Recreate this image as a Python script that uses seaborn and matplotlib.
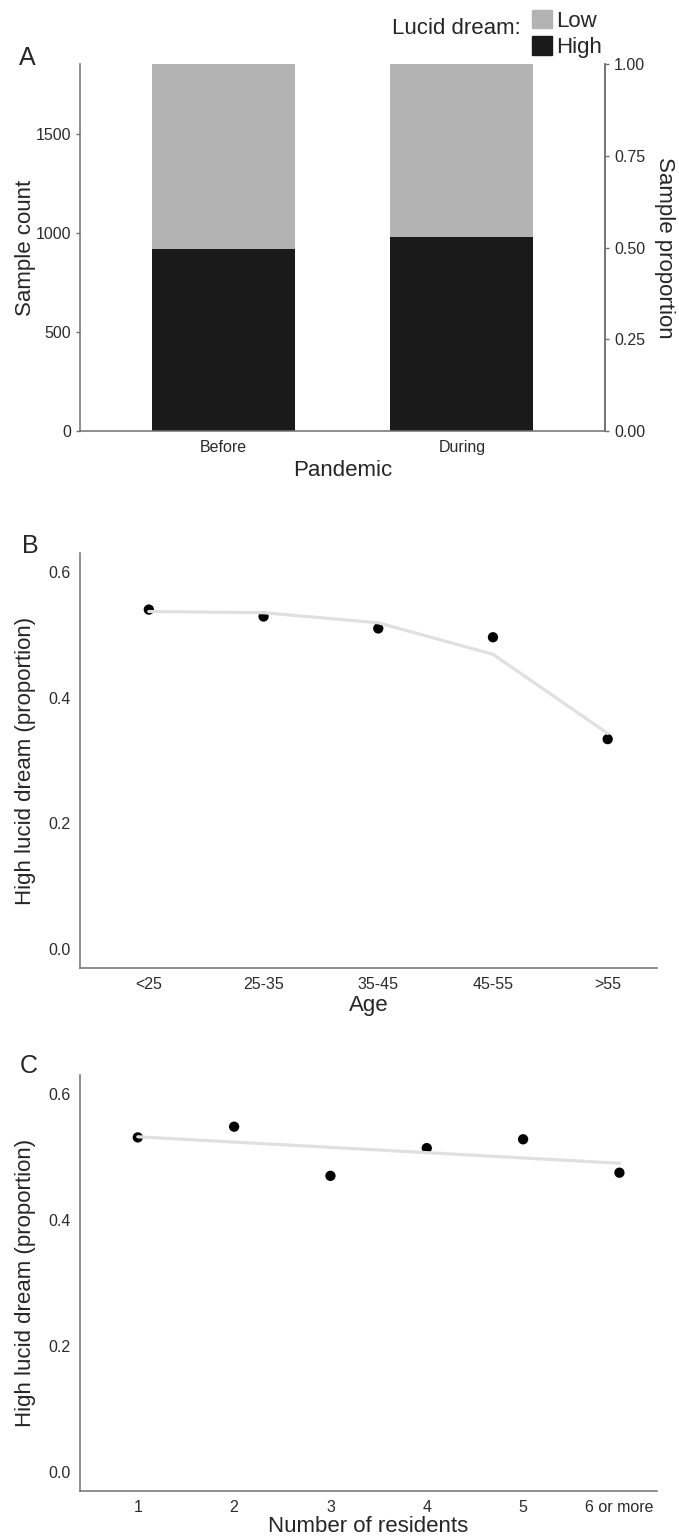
import matplotlib
matplotlib.use("Agg")
import matplotlib.pyplot as plt
import matplotlib.patches as mpatches
import numpy as np
import seaborn as sns

# panel A: lucid dream counts before / during pandemic
pandemic = ["Before", "During"]
high_count = [919, 980]
low_count = [934, 873]

# panel B: proportion of high lucid dreamers by age
age_groups = ["<25", "25-35", "35-45", "45-55", ">55"]
age_prop = [0.540, 0.529, 0.510, 0.496, 0.334]
age_fit = [0.537, 0.535, 0.519, 0.469, 0.343]

# panel C: by number of residents
residents = ["1", "2", "3", "4", "5", "6 or more"]
res_prop = [0.531, 0.548, 0.470, 0.514, 0.528, 0.475]
res_fit_ends = [0.532, 0.490]

W, H = 679, 1538
GRAY = "#b3b3b3"
BLACK = "#1a1a1a"
SPINE = "#707070"
TICKC = "#2b2b2b"
TICK_FS = 11.5
TITLE_FS = 16


def px_axes(fig, left, right, top, bottom):
    return fig.add_axes([left / W, 1 - bottom / H, (right - left) / W, (bottom - top) / H])


def style(ax):
    sns.despine(ax=ax)
    for s in ["left", "bottom"]:
        ax.spines[s].set_color(SPINE)
        ax.spines[s].set_linewidth(1.1)
    ax.tick_params(colors=SPINE, labelcolor=TICKC, labelsize=TICK_FS, length=3, width=1)
    ax.set_facecolor("white")


def place_labels(ax, left, right, top, bottom, xlab_y, ylab_x=25):
    # put axis titles at pixel positions (centres)
    ax.xaxis.set_label_coords(0.5, -(xlab_y - bottom) / (bottom - top))
    ax.xaxis.label.set_va("center")
    ax.yaxis.set_label_coords(-(left - ylab_x) / (right - left), 0.5)
    ax.yaxis.label.set_va("center")


sns.set_theme(style="white")
plt.rcParams["font.family"] = ["Liberation Sans", "DejaVu Sans"]

fig = plt.figure(figsize=(W / 100, H / 100), dpi=100)

# ---- A ----
axa = px_axes(fig, 80, 605, 64, 431)
total = [h + l for h, l in zip(high_count, low_count)]
sns.barplot(x=pandemic, y=total, color=GRAY, width=0.6, linewidth=0, saturation=1, ax=axa)
sns.barplot(x=pandemic, y=high_count, color=BLACK, width=0.6, linewidth=0, saturation=1, ax=axa)
axa.set_xlim(-0.6, 1.6)
axa.set_ylim(0, max(total))
axa.set_yticks([0, 500, 1000, 1500])
axa.set_xlabel("Pandemic", fontsize=TITLE_FS)
axa.set_ylabel("Sample count", fontsize=TITLE_FS)
style(axa)
place_labels(axa, 80, 605, 64, 431, 470, 25)
axa.spines["right"].set_visible(True)
axa.spines["right"].set_color(SPINE)
axa.spines["right"].set_linewidth(1.1)

ax2 = axa.twinx()
ax2.set_ylim(0, 1)
ax2.set_yticks([0, 0.25, 0.5, 0.75, 1.0])
ax2.set_yticklabels(["0.00", "0.25", "0.50", "0.75", "1.00"])
for s in ["top", "left", "bottom"]:
    ax2.spines[s].set_visible(False)
ax2.spines["right"].set_color(SPINE)
ax2.spines["right"].set_linewidth(1.1)
ax2.tick_params(colors=SPINE, labelcolor=TICKC, labelsize=TICK_FS, length=3, width=1)
ax2.set_ylabel("Sample proportion", fontsize=TITLE_FS, rotation=270, va="center")
ax2.yaxis.set_label_coords((664 - 80) / 525, 0.5)

fig.text(19 / W, 1 - 65 / H, "A", fontsize=18, ha="left", va="baseline")
fig.text(521 / W, 1 - 28 / H, "Lucid dream:", fontsize=TITLE_FS, ha="right", va="center")
handles = [mpatches.Patch(color=GRAY, label="Low"), mpatches.Patch(color=BLACK, label="High")]
fig.legend(handles=handles, loc="upper left", bbox_to_anchor=(532 / W, 1 - 10 / H),
           frameon=False, fontsize=TITLE_FS, handlelength=0.9, handleheight=0.9,
           handletextpad=0.2, labelspacing=0.2, borderaxespad=0, borderpad=0)

# ---- B ----
axb = px_axes(fig, 80, 657, 553, 968)
xb = np.arange(len(age_groups))
sns.scatterplot(x=xb, y=age_prop, color="black", s=55, edgecolor="none", ax=axb, zorder=2)
sns.lineplot(x=xb, y=age_fit, color="#e0e0e0", linewidth=2.3, ax=axb, zorder=3)
axb.set_xticks(xb)
axb.set_xticklabels(age_groups)
axb.set_xlim(-0.6, 4.43)
axb.set_ylim(-0.03, 0.63)
axb.set_yticks([0.0, 0.2, 0.4, 0.6])
axb.set_yticklabels(["0.0", "0.2", "0.4", "0.6"])
axb.set_xlabel("Age", fontsize=TITLE_FS)
axb.set_ylabel("High lucid dream (proportion)", fontsize=TITLE_FS)
style(axb)
place_labels(axb, 80, 657, 553, 968, 1006, 26)
fig.text(22 / W, 1 - 553 / H, "B", fontsize=18, ha="left", va="baseline")

# ---- C ----
axc = px_axes(fig, 80, 657, 1075, 1491)
xc = np.arange(len(residents))
sns.scatterplot(x=xc, y=res_prop, color="black", s=55, edgecolor="none", ax=axc, zorder=2)
sns.lineplot(x=[xc[0], xc[-1]], y=res_fit_ends, color="#e0e0e0", linewidth=2.3, ax=axc, zorder=3)
axc.set_xticks(xc)
axc.set_xticklabels(residents)
axc.set_xlim(-0.6, 5.39)
axc.set_ylim(-0.03, 0.63)
axc.set_yticks([0.0, 0.2, 0.4, 0.6])
axc.set_yticklabels(["0.0", "0.2", "0.4", "0.6"])
axc.set_xlabel("Number of residents", fontsize=TITLE_FS)
axc.set_ylabel("High lucid dream (proportion)", fontsize=TITLE_FS)
style(axc)
place_labels(axc, 80, 657, 1075, 1491, 1526, 26)
fig.text(20 / W, 1 - 1073 / H, "C", fontsize=18, ha="left", va="baseline")

fig.savefig("out.png", dpi=100)
